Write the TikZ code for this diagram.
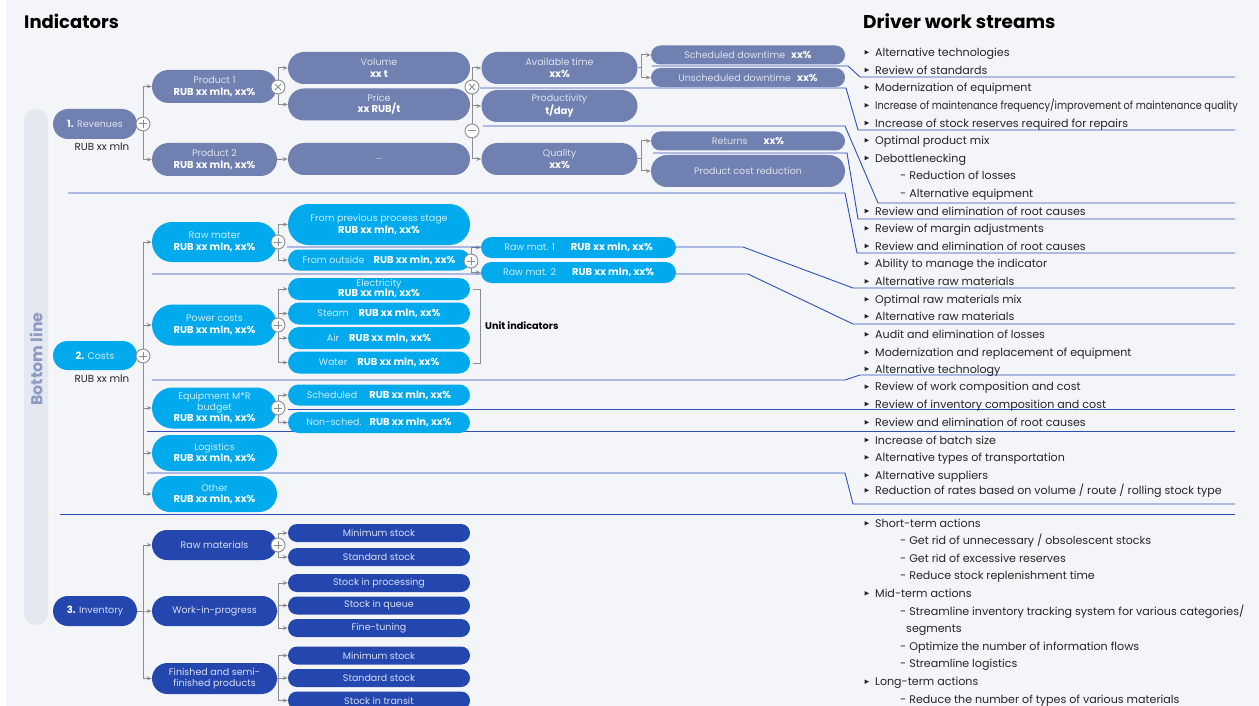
\documentclass[tikz,border=0pt]{standalone}
\usepackage{fontspec}
\setmainfont{Poppins}
\usetikzlibrary{shapes.misc,arrows.meta}
\definecolor{bgc}{HTML}{F4F5F9}
\definecolor{rev}{HTML}{6F80B1}
\definecolor{cost}{HTML}{00AAEC}
\definecolor{inv}{HTML}{2446AF}
\definecolor{sep}{HTML}{2F4FB8}
\definecolor{cgray}{HTML}{8C8C8C}
\definecolor{bar}{HTML}{E3E8F1}
\definecolor{bartxt}{HTML}{8D9BC4}
\definecolor{txt}{HTML}{262626}
\pgfdeclarelayer{back}
\pgfdeclarelayer{lines}
\pgfsetlayers{back,lines,main}
\newcommand\fs{\fontsize{9.5}{11.5}\selectfont}
\newcommand\ls{\fontsize{11.1}{13}\selectfont}
\newcommand\bw[1]{{\fontsize{10}{11.5}\selectfont\bfseries\color{white}#1}}
\newcommand\bul[3]{%
  \fill[txt] (864.5,#2-2.3) -- (869,#2) -- (864.5,#2+2.3) -- cycle;
  \node[lst] (#1) at (875,#2+4.1) {#3};}
\newcommand\subit[3]{\node[lst] (#1) at (900,#2+4.1) {#3};}
\tikzset{
  pill/.style={rounded rectangle, inner sep=0pt, align=center, font=\fs},
  revn/.style={pill, fill=rev, text=white!78!rev},
  costn/.style={pill, fill=cost, text=white!80!cost},
  invn/.style={pill, fill=inv, text=white!82!inv},
  arr/.style={draw=cgray, line width=1pt, -{Stealth[length=5pt,width=4pt]}},
  ln/.style={draw=cgray, line width=1pt},
  sepl/.style={draw=sep, line width=0.9pt},
  opc/.style={circle, draw=cgray, fill=white, line width=0.9pt, minimum size=14pt, inner sep=0pt},
  plus/.style={opc, path picture={\draw[cgray, line width=1pt]
     ([xshift=-4pt]path picture bounding box.center) -- ([xshift=4pt]path picture bounding box.center)
     ([yshift=-4pt]path picture bounding box.center) -- ([yshift=4pt]path picture bounding box.center);}},
  times/.style={opc, path picture={\draw[cgray, line width=1pt]
     ([shift={(-3pt,-3pt)}]path picture bounding box.center) -- ([shift={(3pt,3pt)}]path picture bounding box.center)
     ([shift={(-3pt,3pt)}]path picture bounding box.center) -- ([shift={(3pt,-3pt)}]path picture bounding box.center);}},
  minus/.style={opc, path picture={\draw[cgray, line width=1pt]
     ([xshift=-4pt]path picture bounding box.center) -- ([xshift=4pt]path picture bounding box.center);}},
  lst/.style={anchor=base west, inner sep=0pt, font=\ls, text=txt},
  note/.style={inner sep=0pt, font=\fontsize{10.3}{12}\selectfont, text=txt},
}
\begin{document}
\begin{tikzpicture}[x=1pt,y=-1pt]
\useasboundingbox (0,0) rectangle (1259,706);
\begin{pgfonlayer}{back}
  \fill[bgc] (0,0) rectangle (1259,706);
  \fill[white] (0,0) rectangle (6,706);
  \fill[bar, rounded corners=12pt] (24,109) rectangle (48,625);
\end{pgfonlayer}

% titles
\node[anchor=base west, inner sep=0pt, font=\fontsize{18}{22}\selectfont\bfseries, text=black] (t1) at (24,29) {Indicators};
\node[anchor=base west, inner sep=0pt, font=\fontsize{18.5}{22}\selectfont\bfseries, text=black] (t2) at (863,29) {Driver work streams};
\node[rotate=90, inner sep=0pt, font=\fontsize{15.8}{18}\selectfont\bfseries, text=bartxt] (bl) at (36,359) {Bottom line};

% ---------------- Revenues
\node[revn, minimum width=84pt, minimum height=30pt] (rv) at (95,124) {\bw{1.} Revenues};
\node[note] (rvt) at (102,147) {RUB xx mln};
\node[revn, minimum width=125pt, minimum height=33pt] (p1) at (214.5,86.5) {Product 1\\\bw{RUB xx mln, xx\%}};
\node[revn, minimum width=125pt, minimum height=33pt] (p2) at (214.5,159.5) {Product 2\\\bw{RUB xx mln, xx\%}};
\node[revn, minimum width=182pt, minimum height=32pt] (vol) at (379,68) {Volume\\\bw{xx t}};
\node[revn, minimum width=182pt, minimum height=32pt] (pr) at (379,104.5) {Price\\\bw{xx RUB/t}};
\node[revn, minimum width=182pt, minimum height=32pt] (dots) at (379,159) {...};
\node[revn, minimum width=156pt, minimum height=32pt] (av) at (559.5,68) {Available time\\\bw{xx\%}};
\node[revn, minimum width=156pt, minimum height=32pt] (prod) at (559.5,106) {Productivity\\\bw{t/day}};
\node[revn, minimum width=156pt, minimum height=32pt] (q) at (559.5,159) {Quality\\\bw{xx\%}};
\node[revn, minimum width=194pt, minimum height=19pt] (sd) at (748,55) {Scheduled downtime\hspace{6pt}\bw{xx\%}};
\node[revn, minimum width=194pt, minimum height=19pt] (ud) at (748,77.5) {Unscheduled downtime\hspace{6pt}\bw{xx\%}};
\node[revn, minimum width=194pt, minimum height=19pt] (ret) at (748,141) {Returns\hspace{16pt}\bw{xx\%}};
\node[revn, minimum width=194pt, minimum height=32pt] (pcr) at (748,171) {Product cost reduction};
\node[plus] (c1) at (143,124) {};
\node[times] (x1) at (278,87) {};
\node[times] (x2) at (472,87) {};
\node[minus] (m1) at (472,131) {};

% ---------------- Costs
\node[costn, minimum width=84pt, minimum height=29pt] (cs) at (95,355.5) {\bw{2.} Costs};
\node[note] (cst) at (102,379) {RUB xx mln};
\node[costn, minimum width=125pt, minimum height=40pt] (rm) at (214.5,242) {Raw mater\\\bw{RUB xx mln, xx\%}};
\node[costn, minimum width=125pt, minimum height=41pt] (pc) at (214.5,325) {Power costs\\\bw{RUB xx mln, xx\%}};
\node[costn, minimum width=125pt, minimum height=41pt] (eq) at (214.5,408) {Equipment M*R\\[-1pt]budget\\\bw{RUB xx mln, xx\%}};
\node[costn, minimum width=125pt, minimum height=36pt] (lg) at (214.5,453) {Logistics\\\bw{RUB xx mln, xx\%}};
\node[costn, minimum width=125pt, minimum height=36pt] (ot) at (214.5,494) {Other\\\bw{RUB xx mln, xx\%}};
\node[costn, minimum width=182pt, minimum height=41pt] (fp) at (379,224.5) {From previous process stage\\\bw{RUB xx mln, xx\%}};
\node[costn, minimum width=182pt, minimum height=21pt] (fo) at (379,260) {From outside\hspace{9pt}\bw{RUB xx mln, xx\%}};
\node[costn, minimum width=195pt, minimum height=21pt] (r1) at (578.5,247.5) {Raw mat. 1\hspace{16pt}\bw{RUB xx mln, xx\%}};
\node[costn, minimum width=195pt, minimum height=21pt] (r2) at (578.5,272.5) {Raw mat. 2\hspace{16pt}\bw{RUB xx mln, xx\%}};
\node[costn, minimum width=182pt, minimum height=22pt] (el) at (379,289) {Electricity\\[-1.5pt]\bw{RUB xx mln, xx\%}};
\node[costn, minimum width=182pt, minimum height=22pt] (stm) at (379,313.5) {Steam\hspace{10pt}\bw{RUB xx mln, xx\%}};
\node[costn, minimum width=182pt, minimum height=22pt] (air) at (379,338) {Air\hspace{10pt}\bw{RUB xx mln, xx\%}};
\node[costn, minimum width=182pt, minimum height=22pt] (wa) at (379,362.5) {Water\hspace{10pt}\bw{RUB xx mln, xx\%}};
\node[costn, minimum width=182pt, minimum height=21pt] (sch) at (379,395) {Scheduled\hspace{12pt}\bw{RUB xx mln, xx\%}};
\node[costn, minimum width=182pt, minimum height=21pt] (ns) at (379,422.5) {Non-sched.\hspace{8pt}\bw{RUB xx mln, xx\%}};
\node[anchor=west, inner sep=0pt, font=\fontsize{9.7}{11}\selectfont\bfseries, text=black] (ui) at (485,326) {Unit indicators};
\node[plus] (c2) at (143,356) {};
\node[plus] (c3) at (278,242) {};
\node[plus] (c4) at (471,261) {};
\node[plus] (c5) at (278,325) {};
\node[plus] (c6) at (278,408) {};

% ---------------- Inventory
\node[invn, minimum width=84pt, minimum height=30pt] (iv) at (95,611) {\bw{3.} Inventory};
\node[invn, minimum width=125pt, minimum height=30pt] (rmi) at (214.5,545) {Raw materials};
\node[invn, minimum width=125pt, minimum height=30pt] (wip) at (214.5,611) {Work-in-progress};
\node[invn, minimum width=125pt, minimum height=31pt] (fin) at (214.5,678.5) {Finished and semi-\\finished products};
\node[invn, minimum width=182pt, minimum height=18pt] (ms1) at (379,533) {Minimum stock};
\node[invn, minimum width=182pt, minimum height=18pt] (ss1) at (379,557) {Standard stock};
\node[invn, minimum width=182pt, minimum height=18pt] (sp) at (379,583) {Stock in processing};
\node[invn, minimum width=182pt, minimum height=18pt] (sq) at (379,605.5) {Stock in queue};
\node[invn, minimum width=182pt, minimum height=18pt] (ft) at (379,628) {Fine-tuning};
\node[invn, minimum width=182pt, minimum height=18pt] (ms2) at (379,655.5) {Minimum stock};
\node[invn, minimum width=182pt, minimum height=18pt] (ss2) at (379,678) {Standard stock};
\node[invn, minimum width=182pt, minimum height=18pt] (sti) at (379,700.5) {Stock in transit};
\node[plus] (c7) at (278,545) {};

% ---------------- connectors
\begin{pgfonlayer}{lines}
  \draw[arr] (c1.center) |- (p1.west);
  \draw[arr] (c1.center) |- (p2.west);
  \draw[arr] (x1.center) |- (vol.west);
  \draw[arr] (x1.center) |- (pr.west);
  \draw[arr] (p2.east) -- (dots.west);
  \draw[arr] (x2.center) |- (av.west);
  \draw[arr] (x2.center) |- (prod.west);
  \draw[arr] (x2.center) |- (q.west);
  \draw[arr] (av.east) -- ++(4,0) |- (sd.west);
  \draw[arr] (av.east) -- ++(4,0) |- (ud.west);
  \draw[arr] (q.east) -- ++(4,0) |- (ret.west);
  \draw[arr] (q.east) -- ++(4,0) |- (pcr.west);

  \draw[arr] (c2.center) |- (rm.west);
  \draw[arr] (c2.center) |- (pc.west);
  \draw[arr] (c2.center) |- (eq.west);
  \draw[arr] (c2.center) |- (lg.west);
  \draw[arr] (c2.center) |- (ot.west);
  \draw[arr] (c3.center) |- (fp.west);
  \draw[arr] (c3.center) |- (fo.west);
  \draw[arr] (c4.center) |- (r1.west);
  \draw[arr] (c4.center) |- (r2.west);
  \draw[arr] (c5.center) |- (el.west);
  \draw[arr] (c5.center) |- (stm.west);
  \draw[arr] (c5.center) |- (air.west);
  \draw[arr] (c5.center) |- (wa.west);
  \draw[arr] (c6.center) |- (sch.west);
  \draw[arr] (c6.center) |- (ns.west);
  \draw[ln] (473,289) -- (480,289) -- (480,363) -- (473,363);

  \draw[arr] (iv.east) -- ++(6,0) |- (rmi.west);
  \draw[arr] (iv.east) -- ++(6,0) |- (wip.west);
  \draw[arr] (iv.east) -- ++(6,0) |- (fin.west);
  \draw[arr] (c7.center) |- (ms1.west);
  \draw[arr] (c7.center) |- (ss1.west);
  \draw[arr] (wip.east) -- ++(1.5,0) |- (sp.west);
  \draw[arr] (wip.east) -- ++(1.5,0) |- (sq.west);
  \draw[arr] (wip.east) -- ++(1.5,0) |- (ft.west);
  \draw[arr] (fin.east) -- ++(1.5,0) |- (ms2.west);
  \draw[arr] (fin.east) -- ++(1.5,0) |- (ss2.west);
  \draw[arr] (fin.east) -- ++(1.5,0) |- (sti.west);

  % separator / link lines
  \draw[sepl] (652,66) -- (848,66) -- (860,77) -- (1235,77);
  \draw[sepl] (480,88) -- (846,88) -- (858,130) -- (1235,130);
  \draw[sepl] (483,126) -- (845,126) -- (878,203) -- (1235,203);
  \draw[sepl] (653,153) -- (847,153) -- (858,219) -- (1235,219);
  \draw[sepl] (68,193) -- (845,193) -- (857,253) -- (1235,253);
  \draw[sepl] (287,247) -- (743,247) -- (853,288) -- (1235,288);
  \draw[sepl] (152,274) -- (748,274) -- (853,324) -- (1235,324);
  \draw[sepl] (152,380) -- (845,380) -- (860,375) -- (1235,375);
  \draw[sepl] (288,409.5) -- (1235,409.5);
  \draw[sepl] (147,431.5) -- (1235,431.5);
  \draw[sepl] (147,473) -- (845,473) -- (853,504) -- (1235,504);
  \draw[sepl] (60,514) -- (1235,514);
\end{pgfonlayer}

% ---------------- driver work streams
\bul{d1}{52.3}{Alternative technologies}
\bul{d2}{70}{Review of standards}
\bul{d3}{87.3}{Modernization of equipment}
\bul{d4}{105.3}{\scalebox{0.88}[1]{Increase of maintenance frequency/improvement of maintenance quality}}
\bul{d5}{123}{Increase of stock reserves required for repairs}
\bul{d6}{140.3}{Optimal product mix}
\bul{d7}{158}{Debottlenecking}
\subit{d8}{175.3}{- Reduction of losses}
\subit{d9}{193.3}{- Alternative equipment}
\bul{d10}{211}{Review and elimination of root causes}
\bul{d11}{228.3}{Review of margin adjustments}
\bul{d12}{246}{Review and elimination of root causes}
\bul{d13}{263.3}{Ability to manage the indicator}
\bul{d14}{281.3}{Alternative raw materials}
\bul{d15}{299.3}{Optimal raw materials mix}
\bul{d16}{316.3}{Alternative raw materials}
\bul{d17}{334.3}{Audit and elimination of losses}
\bul{d18}{352.3}{Modernization and replacement of equipment}
\bul{d19}{369}{Alternative technology}
\bul{d20}{386.7}{Review of work composition and cost}
\bul{d21}{404}{Review of inventory composition and cost}
\bul{d22}{422.3}{Review and elimination of root causes}
\bul{d23}{440}{Increase of batch size}
\bul{d24}{457.3}{Alternative types of transportation}
\bul{d25}{475.3}{Alternative suppliers}
\bul{d26}{490.3}{Reduction of rates based on volume / route / rolling stock type}
\bul{d27}{523.3}{Short-term actions}
\subit{d28}{540}{- Get rid of unnecessary / obsolescent stocks}
\subit{d29}{558.3}{- Get rid of excessive reserves}
\subit{d30}{575}{- Reduce stock replenishment time}
\bul{d31}{593.3}{Mid-term actions}
\subit{d32}{611.7}{- Streamline inventory tracking system for various categories/}
\node[lst] (d33) at (906,628.3+4.1) {segments};
\subit{d34}{646.7}{- Optimize the number of information flows}
\subit{d35}{663.3}{- Streamline logistics}
\bul{d36}{681.7}{Long-term actions}
\subit{d37}{699}{- Reduce the number of types of various materials}
\end{tikzpicture}
\end{document}
